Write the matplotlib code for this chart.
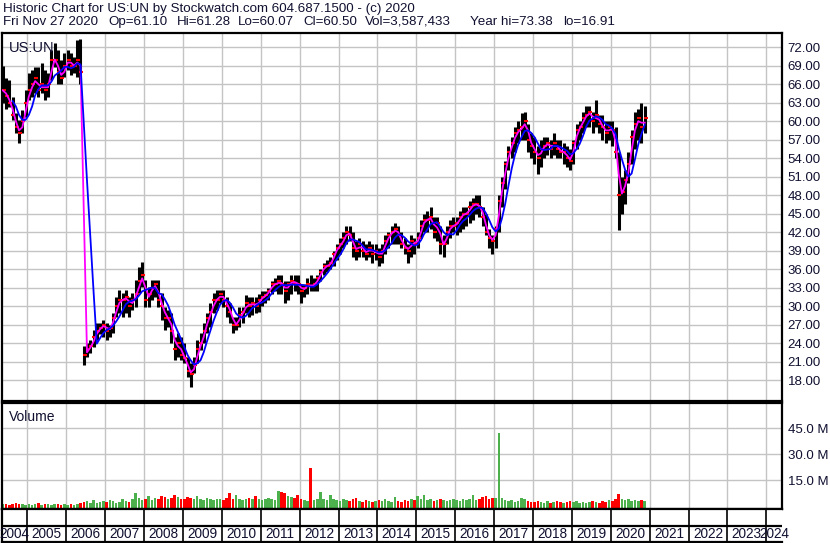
import numpy as np
import pandas as pd
import matplotlib
matplotlib.use("Agg")
import matplotlib.pyplot as plt
import matplotlib.dates as mdates

# --- DATA (monthly) ---
# first month = May 2004, last month = Nov 2020
start_month = "2004-05-01"

low = [63, 62, 62.3, 60.2, 58, 56.4, 58, 60.6,
       63.4, 63.9, 64.5, 63.9, 64.5, 63.4, 63.9, 66.6, 68.8, 66.1, 66.1, 67.1,
       68.3, 67.5, 67.8, 67.1, 66.1, 20.4, 21.7, 22.4, 23.4, 24.5, 25.5, 25,
       24.5, 25, 25.6, 28.2, 28.9, 28.2, 28.9, 28.2, 29.3, 29.8, 32.1, 33.1,
       29.8, 29.8, 31, 31.5, 29.8, 27.7, 26.1, 26.6, 24, 21.2, 21.7, 21.2,
       20.7, 18.5, 16.9, 19.1, 20.7, 22.9, 24, 25.6, 26.6, 28.9, 29.3, 30.5,
       29.8, 28.2, 27.2, 25.6, 26.1, 26.6, 27.2, 28.9, 28.2, 28.5, 28.9, 29,
       30, 30.5, 31, 32, 32.5, 32, 32, 30.5, 31, 32, 32.5, 32,
       30.5, 31.5, 32, 32.5, 32.5, 32.5, 34, 35, 35.5, 36, 36.5, 37.5,
       38.5, 39.5, 40, 40.5, 38, 37.5, 38, 38, 37.5, 38, 37, 37.5,
       36.5, 37, 38.5, 39.5, 40, 40, 40, 39.5, 38.5, 37, 38, 38.5,
       39.5, 41, 42, 42, 42.5, 41, 40.5, 38.5, 38, 40, 41, 42,
       41.5, 42, 42.5, 43, 43.5, 44, 45, 44.5, 43, 41.5, 39.5, 38.5,
       39.5, 42, 46, 49, 52, 54, 55, 56.5, 57, 57, 55, 54,
       53, 51.5, 52.5, 54, 54.5, 54, 54.5, 54, 54, 53, 52.5, 52,
       53, 55.5, 57, 58, 59, 59, 58, 59, 58, 57, 56.5, 57,
       56, 54, 42.3, 45, 46.5, 50, 53, 55.5, 57, 56.5, 58]

high = [69, 67, 66.6, 63.9, 61.3, 60.2, 61.8, 65,
        67.8, 68.3, 68.8, 68.8, 69.4, 68.3, 67.8, 71.5, 72.6, 71.5, 69.9, 71,
        71.5, 71, 70.4, 73.1, 73.4, 23.5, 24, 24.5, 26.1, 27.2, 27.2, 27.7,
        27.2, 27, 28.9, 31.5, 32.6, 32.1, 32.6, 31.5, 32.1, 34.2, 36.3, 37.1,
        34.2, 33.1, 34.2, 34.2, 34.2, 32.1, 29.8, 29.4, 28.9, 25, 25.6, 25,
        24, 21.7, 20.7, 21.7, 24.5, 25.6, 27.2, 28.9, 30.5, 32.1, 32.6, 32.6,
        32.6, 31.5, 30.5, 28.2, 28.2, 29.8, 29.8, 31.8, 31.5, 31.5, 31.5, 32,
        32.5, 32.5, 33, 34, 34.5, 35, 35, 34, 34, 35, 35, 35,
        33.5, 33.5, 34.5, 35, 34.5, 35, 36, 37, 37.5, 38, 39, 40,
        41, 42, 43, 43, 42, 40.5, 41, 40.5, 40, 40.5, 40, 40,
        39.5, 40, 41.5, 42, 43, 43.5, 43, 42, 41, 40, 41.5, 41,
        42, 44, 45, 45.5, 46, 44.5, 44.5, 43, 41.5, 43, 44, 44.5,
        44.5, 45.5, 46, 46, 47, 47.5, 48, 48, 46, 45, 42.5, 41.5,
        43, 48, 51, 53.5, 56, 57.5, 59, 60, 61.3, 61.5, 59.5, 58,
        57.5, 56, 57, 57.5, 57.5, 57, 58, 57, 57, 56.5, 56, 55.5,
        57, 59.5, 60, 61.5, 62.5, 62.5, 61.5, 63.4, 61, 61, 60, 60,
        60, 59, 55, 51, 52, 55, 58.5, 61.5, 62, 63, 62.5]

close = [65, 64, 63, 61, 59, 58, 60, 63,
         65, 66, 67, 65, 66, 65, 66, 70, 70, 68, 67, 69,
         70, 69, 69, 70, 68, 22, 23, 23.5, 25, 26, 26.5, 27,
         26, 26.5, 28, 30, 31, 31, 31.5, 30, 31, 32, 34, 35,
         31, 32, 33, 33.5, 31, 30, 28, 28, 26, 23, 24, 22,
         21.5, 19.5, 19, 20.5, 23, 24, 26, 28, 29, 31, 31, 32,
         31, 30, 29, 27, 27, 28.5, 29, 30.5, 30, 30.5, 30, 31,
         31.5, 31.8, 32.5, 33.5, 33.5, 34, 33.5, 32.5, 33.5, 34, 33.8, 33.5,
         32.5, 33, 33.5, 33.2, 33.5, 34.5, 35.5, 36.5, 36.5, 37, 38.5, 39.5,
         40, 41, 42, 41.5, 39.5, 39, 40, 39, 38.5, 39.5, 38.5, 39,
         38, 39, 40.5, 41.5, 42, 42.5, 41.5, 40, 39.5, 39, 40.5, 40,
         41, 43, 44, 44, 44.5, 42, 43.5, 40, 40, 42, 43, 43,
         43.5, 44.5, 45, 45, 46, 46.5, 46.5, 46, 44.5, 42, 41, 40.5,
         42.5, 47, 50, 53, 55, 56.5, 58, 58.5, 59, 60, 57, 56,
         55, 54, 55.5, 56, 56.5, 55.5, 56.5, 55.5, 55, 55, 54, 53.5,
         56.5, 58.5, 59, 60.5, 61, 61.5, 60, 61, 59.5, 59, 58, 59,
         58.5, 55, 48, 48.5, 50.5, 53, 57.5, 59.5, 60.5, 59, 60.5]

volume_m = [1.2, 1.5, 1.0, 1.3, 1.8, 1.2, 1.5, 1.0,
            1.5, 1.0, 1.2, 1.8, 1.0, 1.3, 1.5, 1.0, 1.2, 1.4, 1.0, 1.3,
            1.0, 1.2, 0.8, 1.5, 2.0, 2.5, 3.0, 2.2, 3.5, 2.0, 2.8, 3.0,
            2.5, 3.5, 3.0, 2.0, 2.5, 4.0, 3.0, 2.5, 4.5, 7.5, 5.0, 3.5,
            4.0, 6.0, 3.5, 5.0, 4.5, 6.0, 5.5, 4.0, 5.0, 6.5, 5.5, 4.5,
            4.5, 5.5, 5.0, 4.0, 6.0, 4.5, 3.5, 5.0, 4.0, 3.5, 4.5, 4.0,
            3.5, 5.0, 7.5, 4.0, 6.5, 4.5, 3.5, 4.0, 5.0, 4.0, 6.0, 4.0,
            3.5, 4.0, 5.0, 4.5, 3.5, 9.0, 8.0, 7.5, 6.0, 5.5, 5.0, 6.5,
            4.0, 3.5, 3.0, 22.0, 3.5, 4.5, 8.0, 4.0, 3.5, 6.5, 4.5, 3.5,
            3.0, 4.0, 3.5, 3.0, 4.5, 5.0, 3.0, 2.5, 3.5, 3.0, 2.5, 3.0,
            3.5, 3.0, 4.0, 3.0, 2.5, 5.5, 3.0, 2.5, 3.5, 3.0, 4.0, 3.5,
            6.0, 4.0, 6.5, 3.5, 4.5, 3.0, 3.5, 4.0, 3.5, 3.0, 3.5, 4.0,
            3.5, 3.0, 4.5, 3.5, 4.0, 6.5, 3.5, 4.0, 5.5, 6.0, 4.5, 5.0,
            5.0, 42.5, 5.0, 3.5, 3.0, 3.5, 2.5, 3.0, 5.0, 4.5, 3.0, 2.5,
            2.5, 3.0, 2.5, 2.0, 3.0, 2.0, 2.5, 3.0, 2.5, 2.0, 2.5, 3.0,
            2.5, 3.0, 2.0, 2.5, 2.0, 2.5, 3.0, 2.5, 2.0, 3.0, 2.5, 3.5,
            3.0, 4.0, 7.0, 4.5, 3.5, 4.0, 3.0, 3.5, 3.0, 3.5, 3.0]

price_ticks = list(range(18, 73, 3))
volume_ticks = [15, 30, 45]
years = list(range(2004, 2025))

header1 = "Historic Chart for US:UN by Stockwatch.com 604.687.1500 - (c) 2020"
header2 = [("Fri Nov 27 2020", 3), ("Op=61.10", 108), ("Hi=61.28", 177),
           ("Lo=60.07", 238), ("Cl=60.50", 303), ("Vol=3,587,433", 365),
           ("Year hi=73.38", 470), ("lo=16.91", 563)]

# --- PREPARE ---
df = pd.DataFrame({"low": low, "high": high, "close": close, "vol": volume_m})
df["date"] = pd.date_range(start_month, periods=len(df), freq="MS") + pd.Timedelta(days=14)
df["ma_short"] = df["close"].rolling(2, min_periods=1).mean()
df["ma_long"] = df["close"].rolling(5, min_periods=4).mean()
up = df["close"].diff().fillna(0) >= 0
vol_colors = np.where(up, "#4cb04c", "#ff0000")

W, H = 830, 543
def fx(px):
    return px / W
def fy(py):
    return 1 - py / H

x0 = mdates.date2num(pd.Timestamp("2004-05-08"))
x1 = mdates.date2num(pd.Timestamp("2024-05-27"))
boundaries = [mdates.date2num(pd.Timestamp(f"{y}-01-01")) for y in years[1:]]

FONT = "Liberation Sans"
TXT = "#101030"
GRID = "#c4c4c4"

fig = plt.figure(figsize=(W / 100, H / 100), dpi=100)
fig.patch.set_facecolor("white")

# header
fig.text(fx(3), fy(9), header1, fontsize=9.6, family=FONT, color=TXT, va="center", ha="left")
for txt, px in header2:
    fig.text(fx(px), fy(22), txt, fontsize=9.6, family=FONT, color=TXT, va="center", ha="left")

# --- PRICE PANEL ---
ax = fig.add_axes([fx(2), fy(401), fx(780), (401 - 33) / H])
ax.set_xlim(x0, x1)
ax.set_ylim(14.6, 74.3)
for b in boundaries:
    ax.axvline(b, color=GRID, lw=1, zorder=0)
for t in price_ticks:
    ax.axhline(t, color=GRID, lw=1, zorder=0)

dn = mdates.date2num(df["date"])
ax.vlines(dn, df["low"], df["high"], color="black", lw=2.2, zorder=2)
ax.plot(dn + 8, df["close"], ls="none", marker="_", color="red", ms=3, mew=1.5, zorder=3)
ax.plot(dn, df["ma_short"], color="#ff00ff", lw=1.3, zorder=4)
ax.plot(dn, df["ma_long"], color="#0000ff", lw=1.3, zorder=4)

ax.yaxis.tick_right()
ax.set_yticks(price_ticks)
ax.set_yticklabels([f"{t:.2f}" for t in price_ticks], family=FONT, fontsize=9.5, color=TXT)
ax.tick_params(axis="y", length=0, pad=4)
ax.set_xticks([])
for s in ax.spines.values():
    s.set_color("black")
    s.set_linewidth(1.6)
ax.text(0.009, 0.978, "US:UN", transform=ax.transAxes, family=FONT, fontsize=10.5,
        color=TXT, va="top", ha="left")

# --- VOLUME PANEL ---
av = fig.add_axes([fx(2), fy(509), fx(780), (509 - 403) / H])
av.set_xlim(x0, x1)
av.set_ylim(-1.5, 59.5)
for b in boundaries:
    av.axvline(b, color=GRID, lw=1, zorder=0)
for t in volume_ticks:
    av.axhline(t, color=GRID, lw=1, zorder=0)
av.bar(dn, df["vol"] + 1.5, bottom=-1.5, width=24, color=vol_colors, zorder=2)
av.yaxis.tick_right()
av.set_yticks(volume_ticks)
av.set_yticklabels([f"{t:.1f} M" for t in volume_ticks], family=FONT, fontsize=9.5, color=TXT)
av.tick_params(axis="y", length=0, pad=4)
av.set_xticks([])
for s in av.spines.values():
    s.set_color("black")
    s.set_linewidth(1.6)
av.text(0.009, 0.93, "Volume", transform=av.transAxes, family=FONT, fontsize=10,
        color=TXT, va="top", ha="left")

# --- YEAR STRIP ---
ay = fig.add_axes([fx(2), fy(542), fx(780), (542 - 509) / H])
ay.set_xlim(x0, x1)
ay.set_ylim(0, 1)
ay.axhline(16 / 33, color="black", lw=1.6)
for b in boundaries:
    ay.axvline(b, color="black", lw=1.2)
edges = [x0] + boundaries + [x1]
for i, yr in enumerate(years):
    mid = (edges[i] + edges[i + 1]) / 2
    ay.text(mid, 0.24, str(yr), ha="center", va="center", family=FONT, fontsize=9.8,
            color=TXT, clip_on=False)
ay.set_xticks([])
ay.set_yticks([])
for s in ay.spines.values():
    s.set_color("black")
    s.set_linewidth(1.6)
ay.spines["right"].set_visible(False)

fig.savefig("out.png", dpi=100, facecolor="white")
